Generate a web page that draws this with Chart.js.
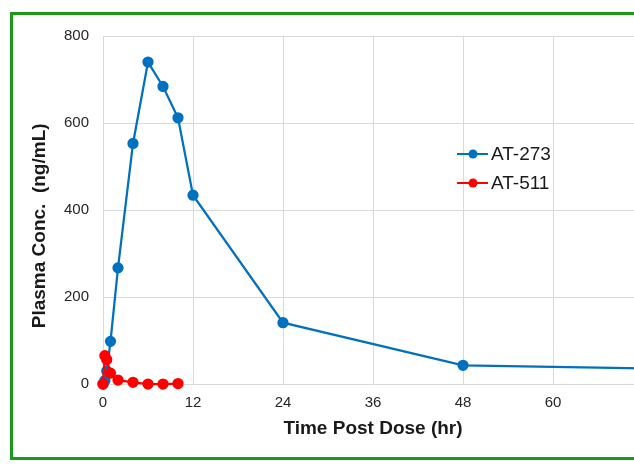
<!DOCTYPE html>
<html>
<head>
<meta charset="utf-8">
<script src="https://cdn.jsdelivr.net/npm/chart.js@4.4.0/dist/chart.umd.min.js"></script>
<style>
  html, body { margin: 0; padding: 0; background: #fff; overflow: hidden; }
  #wrap { position: relative; width: 634px; height: 468px; overflow: hidden; }
  #chart { position: absolute; left: 0; top: 0; }
  #frame { position: absolute; left: 10px; top: 12px; width: 700px; height: 442px;
           border: 3px solid #199a19; pointer-events: none; }
</style>
</head>
<body>
<div id="wrap">
  <canvas id="chart" width="700" height="468" style="width:700px;height:468px"></canvas>
  <div id="frame"></div>
</div>
<script>
// data
var seriesNames = ["AT-273", "AT-511"];
var timeA = [0, 0.25, 0.5, 1, 2, 4, 6, 8, 10, 12, 24, 48, 72];
var concA = [0, 8, 30, 98, 267, 553, 740, 684, 612, 434, 141, 43, 36];
var timeB = [0, 0.25, 0.5, 1, 2, 4, 6, 8, 10];
var concB = [0, 65, 56, 25, 9, 4, 0, 0, 1];
var xTicks = [0, 12, 24, 36, 48, 60, 72];
var yTicks = [0, 200, 400, 600, 800];

var colors = ["#0070C0", "#FF0000"];
var FONT = "'Liberation Sans', Arial, sans-serif";

function pts(xs, ys) {
  return xs.map(function (x, i) { return { x: x, y: ys[i] }; });
}

///legend drawn inside the plot
var insideLegend = {
  id: "insideLegend",
  afterDraw: function (chart) {
    var ctx = chart.ctx;
    chart.data.datasets.forEach(function (ds, i) {
      var y = 154 + i * 29;
      ctx.save();
      ctx.strokeStyle = ds.borderColor;
      ctx.lineWidth = 2;
      ctx.beginPath();
      ctx.moveTo(457, y);
      ctx.lineTo(488, y);
      ctx.stroke();
      ctx.fillStyle = ds.borderColor;
      ctx.beginPath();
      ctx.arc(473, y, 4.5, 0, Math.PI * 2);
      ctx.fill();
      ctx.fillStyle = "#1a1a1a";
      ctx.font = "19px " + FONT;
      ctx.textBaseline = "middle";
      ctx.fillText(ds.label, 491, y + 1);
      ctx.restore();
    });
  }
};

var ctx = document.getElementById("chart");
var mychart = new Chart(ctx, {
  type: "line",
  data: {
    datasets: [
      {
        label: seriesNames[0],
        data: pts(timeA, concA),
        borderColor: colors[0],
        backgroundColor: colors[0],
        pointBackgroundColor: colors[0],
        pointBorderColor: colors[0],
        borderWidth: 2.25,
        pointRadius: 4.5,
        clip: false,
        order: 1,
      },
      {
        label: seriesNames[1],
        data: pts(timeB, concB),
        borderColor: colors[1],
        backgroundColor: colors[1],
        pointBackgroundColor: colors[1],
        pointBorderColor: colors[1],
        borderWidth: 2.25,
        pointRadius: 4.5,
        clip: false,
        order: 0,
      },
    ],
  },
  options: {
    responsive: false,
    animation: false,
    layout: { padding: { left: 24, top: 36, right: 57, bottom: 24 } },
    plugins: {
      legend: { display: false },
      tooltip: { enabled: false },
    },
    scales: {
      x: {
        type: "linear",
        min: xTicks[0],
        max: xTicks[xTicks.length - 1],
        afterBuildTicks: function (s) {
          s.ticks = xTicks.map(function (v) { return { value: v }; });
        },
        afterFit: function (s) { s.height = 60; },
        grid: { color: "#d9d9d9", drawTicks: false },
        border: { color: "#d9d9d9" },
        ticks: {
          padding: 10,
          color: "#262626",
          font: { size: 15, family: FONT },
          maxRotation: 0,
        },
        title: {
          display: true,
          text: "Time Post Dose (hr)",
          color: "#1a1a1a",
          font: { size: 19, weight: "bold", family: FONT },
        },
      },
      y: {
        min: yTicks[0],
        max: yTicks[yTicks.length - 1],
        afterBuildTicks: function (s) {
          s.ticks = yTicks.map(function (v) { return { value: v }; });
        },
        afterFit: function (s) { s.width = 79; },
        grid: { color: "#d9d9d9", drawTicks: false },
        border: { color: "#d9d9d9" },
        ticks: {
          padding: 14,
          color: "#262626",
          font: { size: 15, family: FONT },
        },
        title: {
          display: true,
          text: "Plasma Conc.\u00a0\u00a0(ng/mL)\u00a0\u00a0\u00a0\u00a0\u00a0\u00a0",
          color: "#1a1a1a",
          font: { size: 19, weight: "bold", family: FONT },
        },
      },
    },
  },
  plugins: [insideLegend],
});
</script>
</body>
</html>
